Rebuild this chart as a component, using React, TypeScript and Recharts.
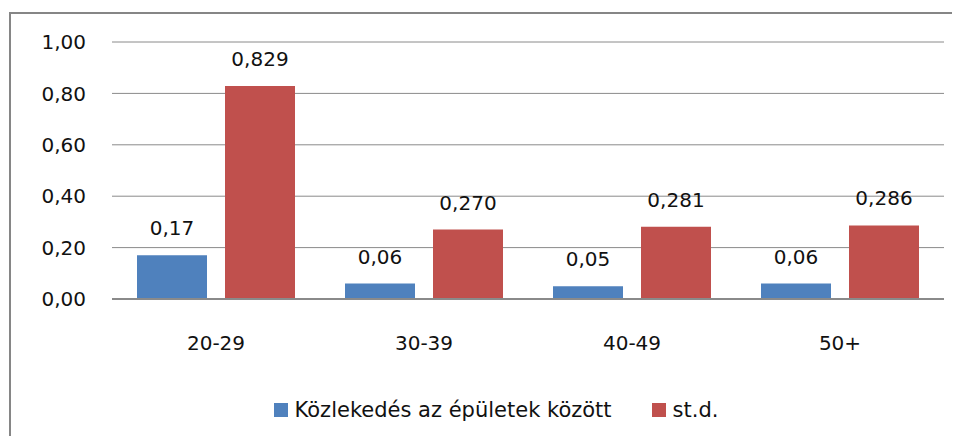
import React from "react";
import {
  BarChart,
  Bar,
  XAxis,
  YAxis,
  CartesianGrid,
  Legend,
  LabelList,
} from "recharts";

const categories = ["20-29", "30-39", "40-49", "50+"];
const kozlekedes = [0.17, 0.06, 0.05, 0.06];
const stdDev = [0.829, 0.27, 0.281, 0.286];
const yTicks = [0, 0.2, 0.4, 0.6, 0.8, 1.0];

const seriesNames = ["Közlekedés az épületek között", "st.d."];
const BLUE = "#4F81BD";
const RED = "#C0504D";
const FONT = "'DejaVu Sans', sans-serif";

const data = categories.map((c, i) => ({
  cat: c,
  a: kozlekedes[i],
  b: stdDev[i],
}));

const comma = (v: number, d: number) => v.toFixed(d).replace(".", ",");

function LegendBox() {
  const items = [
    { name: seriesNames[0], color: BLUE },
    { name: seriesNames[1], color: RED },
  ];
  return (
    <div
      style={{
        display: "flex",
        justifyContent: "center",
        alignItems: "center",
        height: 30,
        paddingLeft: 32,
        fontFamily: FONT,
        fontSize: 21,
        color: "#111",
      }}
    >
      {items.map((it, i) => (
        <div
          key={it.name}
          style={{ display: "flex", alignItems: "center", marginLeft: i ? 40 : 0 }}
        >
          <span
            style={{
              display: "inline-block",
              width: 14,
              height: 14,
              background: it.color,
              marginRight: 7,
            }}
          />
          <span>{it.name}</span>
        </div>
      ))}
    </div>
  );
}

export default function App() {
  return (
    <div
      style={{
        position: "relative",
        width: 960,
        height: 444,
        margin: -8,
        overflow: "hidden",
        background: "#fff",
      }}
    >
      <div
        style={{
          position: "absolute",
          left: 9,
          top: 12,
          width: 1000,
          height: 1000,
          border: "2px solid #868686",
        }}
      />
      <div style={{ position: "absolute", left: 0, top: 0 }}>
        <BarChart
          width={960}
          height={444}
          data={data}
          margin={{ top: 42, right: 16, bottom: 55, left: 0 }}
          barCategoryGap={25}
          barGap={18}
        >
          <CartesianGrid vertical={false} stroke="#8a8a8a" strokeWidth={1} />
          <XAxis
            dataKey="cat"
            height={60}
            tickLine={false}
            tickSize={0}
            tickMargin={37}
            axisLine={{ stroke: "#8a8a8a", strokeWidth: 2 }}
            tick={{ fill: "#111", fontFamily: FONT, fontSize: 20 }}
          />
          <YAxis
            width={112}
            domain={[0, 1]}
            ticks={yTicks}
            axisLine={false}
            tickLine={false}
            tickSize={0}
            tickMargin={26}
            tickFormatter={(v: number) => comma(v, 2)}
            tick={{ fill: "#111", fontFamily: FONT, fontSize: 20 }}
          />
          <Legend
            content={() => <LegendBox />}
            wrapperStyle={{ top: 395, bottom: "auto", left: 0, width: 960 }}
          />
          <Bar dataKey="a" name={seriesNames[0]} fill={BLUE} isAnimationActive={false}>
            <LabelList
              dataKey="a"
              position="top"
              offset={20}
              formatter={(v: number) => comma(v, 2)}
              style={{ fill: "#111", fontFamily: FONT, fontSize: 20 }}
            />
          </Bar>
          <Bar dataKey="b" name={seriesNames[1]} fill={RED} isAnimationActive={false}>
            <LabelList
              dataKey="b"
              position="top"
              offset={20}
              formatter={(v: number) => comma(v, 3)}
              style={{ fill: "#111", fontFamily: FONT, fontSize: 20 }}
            />
          </Bar>
        </BarChart>
      </div>
    </div>
  );
}
